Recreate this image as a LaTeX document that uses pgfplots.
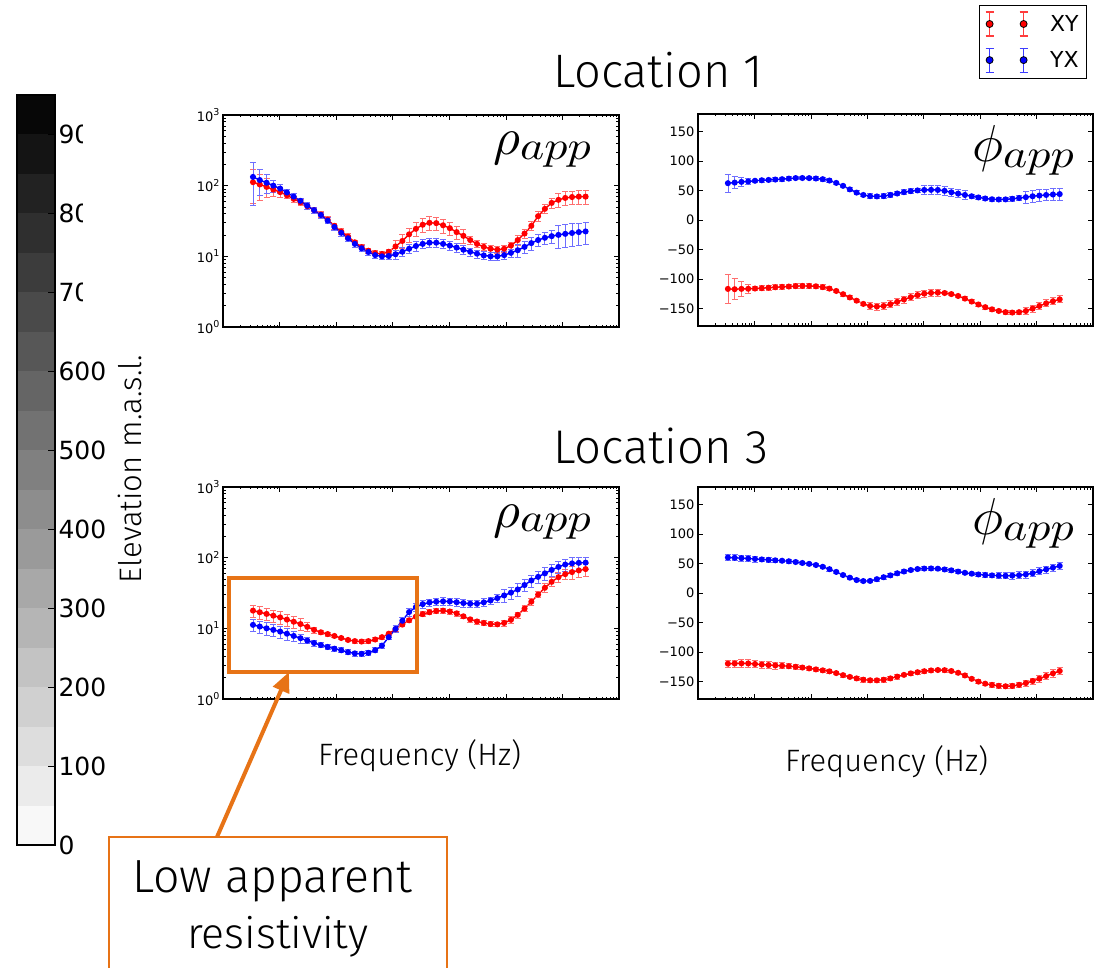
\documentclass[border=0pt]{standalone}
\usepackage{pgfplots}
\pgfplotsset{compat=1.18}
\usepackage{pgfplotstable}
\usepackage{graphicx}
\usepackage{fontspec}
\setmainfont{Liberation Sans}
\newfontfamily\lf{Fira Sans Light}
\newfontfamily\dejavu{DejaVu Sans}
\usetikzlibrary{arrows.meta}
\definecolor{annor}{RGB}{231,115,22}
\definecolor{ebred}{RGB}{255,110,110}
\definecolor{ebblue}{RGB}{110,110,255}
\definecolor{lgred}{RGB}{255,60,60}
\definecolor{lgblue}{RGB}{60,60,255}
\newcommand{\pw}[1]{10\raisebox{5.5pt}{\fontsize{9.5}{10}\selectfont #1}}
\newcommand{\wtext}[2]{\resizebox{#1pt}{!}{\lf #2}}
\pgfplotsset{
  xyst/.style={color=red, mark=*, mark size=2.3pt, line width=1.4pt, forget plot,
    error bars/y dir=both,
    error bars/error bar style={ebred, line width=0.8pt},
    error bars/error mark options={rotate=90, ebred, mark size=3pt, line width=0.8pt}},
  yxst/.style={color=blue, mark=*, mark size=2.3pt, line width=1.4pt, forget plot,
    error bars/y dir=both,
    error bars/error bar style={ebblue, line width=0.8pt},
    error bars/error mark options={rotate=90, ebblue, mark size=3pt, line width=0.8pt}},
}
\begin{document}
\pgfplotstableread{
lx xy exy yx eyx
-3.47 112 0.5 133 0.6
-3.35 104 0.4 120 0.4
-3.23 96 0.3 110 0.3
-3.11 88 0.2 100 0.2
-2.99 81 0.15 91 0.15
-2.87 73 0.1 80 0.1
-2.75 65 0.1 70 0.1
-2.63 58 0.1 61 0.1
-2.51 51 0.1 52 0.1
-2.39 45 0.1 45 0.1
-2.27 39 0.1 38.5 0.1
-2.15 33 0.1 32 0.1
-2.03 27 0.1 26 0.1
-1.91 22.5 0.1 21.5 0.1
-1.79 19 0.1 18 0.1
-1.67 15.8 0.08 15 0.1
-1.55 13.5 0.08 13 0.1
-1.43 12 0.08 11.5 0.1
-1.31 11.1 0.08 10.4 0.1
-1.19 10.8 0.08 10.0 0.1
-1.07 11.6 0.08 10.1 0.1
-0.95 13.8 0.22 10.7 0.15
-0.83 16.5 0.22 11.6 0.15
-0.71 20.5 0.22 12.8 0.15
-0.59 24.5 0.22 14.0 0.15
-0.47 28 0.22 15.0 0.15
-0.35 29.8 0.22 15.6 0.15
-0.23 29.5 0.22 15.6 0.15
-0.11 27.5 0.22 15.0 0.15
0.01 25 0.22 14.2 0.15
0.13 22 0.22 13.3 0.15
0.25 19.5 0.22 12.4 0.15
0.37 17 0.12 11.6 0.13
0.49 15 0.12 10.9 0.13
0.61 13.6 0.12 10.3 0.13
0.73 12.8 0.12 10.0 0.13
0.85 12.4 0.12 10.0 0.13
0.97 12.8 0.12 10.4 0.13
1.09 14.2 0.12 11.2 0.13
1.21 17 0.15 12.2 0.2
1.33 21 0.15 13.6 0.2
1.45 27 0.15 15.4 0.2
1.57 37 0.15 17.0 0.2
1.69 47 0.15 18.3 0.2
1.81 57 0.15 19.3 0.2
1.93 63 0.22 20.1 0.35
2.05 67 0.22 20.8 0.35
2.17 69 0.22 21.4 0.35
2.29 70 0.22 22.0 0.35
2.41 70 0.22 22.5 0.35
}\rhoA
\pgfplotstableread{
lx xy exy yx eyx
-3.47 -117 25 62.5 15
-3.35 -117.5 18 63.5 10
-3.23 -117 12 64.7 7
-3.11 -116.8 7 65.5 5
-2.99 -116.4 4 66.6 3
-2.87 -115.8 4 67.5 3
-2.75 -115 4 68 3
-2.63 -114.2 4 68.7 3
-2.51 -113.5 4 69.3 3
-2.39 -113 4 70.3 3
-2.27 -112.3 4 71.2 3
-2.15 -112 4 71.3 3
-2.03 -112 4 71.1 3
-1.91 -112.6 4 70.5 3
-1.79 -114 4 69.3 3
-1.67 -116.5 3 67 3
-1.55 -120.5 3 63 3
-1.43 -126 3 58 3
-1.31 -131.5 3 52 3
-1.19 -137 3 46.5 3
-1.07 -142.5 3 42.5 3
-0.95 -146 6 40.5 4
-0.83 -147 6 40 4
-0.71 -146 6 40.6 4
-0.59 -143 6 42.5 4
-0.47 -139 6 45 4
-0.35 -135 6 47.3 4
-0.23 -131 6 49 4
-0.11 -127.5 6 50.2 4
0.01 -125 6 51 7
0.13 -123.7 6 51.2 7
0.25 -123.3 6 51 7
0.37 -124 3 49.5 7
0.49 -125.8 3 47 7
0.61 -129 3 44.8 7
0.73 -133.5 3 42.5 7
0.85 -138.5 3 40.3 4
0.97 -143.5 3 38.3 4
1.09 -148 3 36.5 4
1.21 -151.7 3 35.2 4
1.33 -154.5 3 34.8 4
1.45 -156.5 3 35 4
1.57 -157.2 3 36 4
1.69 -156.5 3 37.3 4
1.81 -154.5 6 38.7 10
1.93 -150.5 6 40.3 10
2.05 -146 6 41.5 10
2.17 -141.5 6 42.5 10
2.29 -138 6 43.3 10
2.41 -134.7 6 44 10
}\phiA
\pgfplotstableread{
lx xy exy yx eyx
-3.47 17.8 0.2 11.2 0.2
-3.35 16.9 0.2 10.6 0.2
-3.23 16 0.2 10.0 0.2
-3.11 15.1 0.2 9.5 0.2
-2.99 14.3 0.2 9.0 0.2
-2.87 13.3 0.2 8.4 0.2
-2.75 12.4 0.2 7.8 0.15
-2.63 11.5 0.2 7.25 0.15
-2.51 10.5 0.15 6.7 0.1
-2.39 9.5 0.1 6.2 0.1
-2.27 8.8 0.06 5.8 0.08
-2.15 8.3 0.06 5.45 0.08
-2.03 7.8 0.06 5.15 0.08
-1.91 7.3 0.06 4.9 0.08
-1.79 6.85 0.06 4.6 0.08
-1.67 6.6 0.06 4.42 0.08
-1.55 6.5 0.06 4.36 0.08
-1.43 6.6 0.06 4.5 0.08
-1.31 6.95 0.06 4.9 0.08
-1.19 7.5 0.06 5.7 0.08
-1.07 8.4 0.06 7.5 0.08
-0.95 9.7 0.06 9.8 0.12
-0.83 11.3 0.06 12.8 0.12
-0.71 13.0 0.06 17 0.12
-0.59 14.6 0.06 20 0.12
-0.47 15.9 0.08 22 0.12
-0.35 16.9 0.08 23.2 0.12
-0.23 17.6 0.08 23.8 0.12
-0.11 17.8 0.08 24.1 0.12
0.01 17.3 0.08 24 0.12
0.13 16.3 0.08 23.4 0.12
0.25 14.8 0.08 22.8 0.12
0.37 13.4 0.08 22.3 0.12
0.49 12.5 0.08 22.3 0.12
0.61 11.9 0.08 23.3 0.12
0.73 11.5 0.08 24.8 0.12
0.85 11.4 0.08 26.8 0.12
0.97 11.9 0.1 29.2 0.2
1.09 13.2 0.1 32 0.2
1.21 15.5 0.1 35.5 0.2
1.33 19 0.1 41 0.2
1.45 23.8 0.1 47.5 0.2
1.57 30 0.1 53.5 0.2
1.69 37.5 0.15 60 0.2
1.81 45.5 0.15 67 0.2
1.93 53 0.15 74 0.2
2.05 58.5 0.15 80 0.2
2.17 62.5 0.2 83 0.2
2.29 66 0.2 84.5 0.2
2.41 69 0.2 85 0.2
}\rhoB
\pgfplotstableread{
lx xy exy yx eyx
-3.47 -120 6 60.3 5
-3.35 -119.7 6 59.8 5
-3.23 -119.5 6 59.2 5
-3.11 -119.6 6 58.6 5
-2.99 -120.5 6 57.8 5
-2.87 -121.5 6 57 4
-2.75 -122.3 6 56.3 4
-2.63 -123 6 55.5 4
-2.51 -123.6 5 54.8 3
-2.39 -124.3 4 53.9 3
-2.27 -125.3 4 52.6 3
-2.15 -126.6 3 51 3
-2.03 -128 3 49.5 3
-1.91 -129.7 3 47.5 3
-1.79 -131.3 3 44.5 3
-1.67 -133 3 40.5 3
-1.55 -136 3 35.8 3
-1.43 -139.5 3 30.5 3
-1.31 -142.5 3 26 3
-1.19 -145 3 22 3
-1.07 -147.2 4 20.3 3
-0.95 -148.2 4 20.5 3
-0.83 -148.3 4 23.5 3
-0.71 -147.3 4 26.8 3
-0.59 -145 4 30 3
-0.47 -142 4 33.5 3
-0.35 -139 3 36.5 3
-0.23 -136.5 3 39 3
-0.11 -134.5 3 40.7 3
0.01 -132.8 3 41.5 3
0.13 -131.5 3 41.7 3
0.25 -130.8 3 41.3 3
0.37 -131 3 40 3
0.49 -132.5 3 38.5 3
0.61 -135.5 3 36.4 3
0.73 -140 3 34.3 3
0.85 -145.8 3 32.8 3
0.97 -150.5 3 31.5 3
1.09 -154 3 30.5 4
1.21 -156.1 4 29.9 4
1.33 -157.6 4 29.5 5
1.45 -158.4 4 29.2 5
1.57 -157.8 4 29.5 6
1.69 -156 4 30.2 6
1.81 -153 5 31.5 6
1.93 -149.5 5 33.5 6
2.05 -145.4 6 37 6
2.17 -141 6 40 6
2.29 -136.5 6 43 6
2.41 -132.4 6 46 6
}\phiB
\begin{tikzpicture}[x=1pt,y=1pt]
\useasboundingbox (0pt,0pt) rectangle (1101pt,-968pt);
% colorbar
\begin{axis}[at={(17pt,-95pt)}, anchor=north west, scale only axis, width=38pt, height=750pt,
  xmin=0, xmax=1, ymin=0, ymax=950, xtick=\empty,
  ytick={0,100,200,300,400,500,600,700,800,900},
  yticklabels={0,100,200,300,400,500,600,700,800,900},
  ytick pos=right, yticklabel pos=right, tick align=inside, major tick length=7pt,
  every tick/.style={black, line width=0.8pt},
  yticklabel style={font=\dejavu\fontsize{25}{25}\selectfont},
  axis line style={line width=1.5pt}, axis on top]
\addplot[fill=black!2.63, draw=none] coordinates {(0,0) (1,0) (1,50) (0,50)};
\addplot[fill=black!7.89, draw=none] coordinates {(0,50) (1,50) (1,100) (0,100)};
\addplot[fill=black!13.16, draw=none] coordinates {(0,100) (1,100) (1,150) (0,150)};
\addplot[fill=black!18.42, draw=none] coordinates {(0,150) (1,150) (1,200) (0,200)};
\addplot[fill=black!23.68, draw=none] coordinates {(0,200) (1,200) (1,250) (0,250)};
\addplot[fill=black!28.95, draw=none] coordinates {(0,250) (1,250) (1,300) (0,300)};
\addplot[fill=black!34.21, draw=none] coordinates {(0,300) (1,300) (1,350) (0,350)};
\addplot[fill=black!39.47, draw=none] coordinates {(0,350) (1,350) (1,400) (0,400)};
\addplot[fill=black!44.74, draw=none] coordinates {(0,400) (1,400) (1,450) (0,450)};
\addplot[fill=black!50, draw=none] coordinates {(0,450) (1,450) (1,500) (0,500)};
\addplot[fill=black!55.26, draw=none] coordinates {(0,500) (1,500) (1,550) (0,550)};
\addplot[fill=black!60.53, draw=none] coordinates {(0,550) (1,550) (1,600) (0,600)};
\addplot[fill=black!65.79, draw=none] coordinates {(0,600) (1,600) (1,650) (0,650)};
\addplot[fill=black!71.05, draw=none] coordinates {(0,650) (1,650) (1,700) (0,700)};
\addplot[fill=black!76.32, draw=none] coordinates {(0,700) (1,700) (1,750) (0,750)};
\addplot[fill=black!81.58, draw=none] coordinates {(0,750) (1,750) (1,800) (0,800)};
\addplot[fill=black!86.84, draw=none] coordinates {(0,800) (1,800) (1,850) (0,850)};
\addplot[fill=black!92.11, draw=none] coordinates {(0,850) (1,850) (1,900) (0,900)};
\addplot[fill=black!97.37, draw=none] coordinates {(0,900) (1,900) (1,950) (0,950)};
\end{axis}
\fill[white] (83pt,-100pt) rectangle (190pt,-335pt);
\node[rotate=90, anchor=base, inner sep=0] at (141pt,-469pt) {\wtext{228}{Elevation m.a.s.l.}};
% top-left rho
\begin{axis}[ymode=log, at={(223pt,-115pt)}, anchor=north west,
    scale only axis, width=396pt, height=212pt, xmin=-4, xmax=3,
    xtick={-4,-3,-2,-1,0,1,2,3}, xticklabels={},
    minor xtick={-3.699,-3.523,-3.398,-3.301,-3.222,-3.155,-3.097,-3.046,-2.699,-2.523,-2.398,-2.301,-2.222,-2.155,-2.097,-2.046,-1.699,-1.523,-1.398,-1.301,-1.222,-1.155,-1.097,-1.046,-0.699,-0.523,-0.398,-0.301,-0.222,-0.155,-0.097,-0.046,0.301,0.477,0.602,0.699,0.778,0.845,0.903,0.954,1.301,1.477,1.602,1.699,1.778,1.845,1.903,1.954,2.301,2.477,2.602,2.699,2.778,2.845,2.903,2.954},
    tick align=inside, axis line style={line width=1.1pt},
    every tick/.style={black, line width=0.7pt},
    major tick length=5pt, minor tick length=2.5pt,
    yticklabel style={font=\dejavu\fontsize{13}{13}\selectfont},
    ymin=1, ymax=1000, ytick={1,10,100,1000},
    yticklabels={\pw{0},\pw{1},\pw{2},\pw{3}}]
\addplot[xyst, error bars/y explicit relative] table[x=lx, y=xy, y error=exy] {\rhoA};
\addplot[yxst, error bars/y explicit relative] table[x=lx, y=yx, y error=eyx] {\rhoA};
\end{axis}
% top-right phi
\begin{axis}[at={(698pt,-114pt)}, anchor=north west,
    scale only axis, width=395pt, height=212pt, xmin=-4, xmax=3,
    xtick={-4,-3,-2,-1,0,1,2,3}, xticklabels={},
    minor xtick={-3.699,-3.523,-3.398,-3.301,-3.222,-3.155,-3.097,-3.046,-2.699,-2.523,-2.398,-2.301,-2.222,-2.155,-2.097,-2.046,-1.699,-1.523,-1.398,-1.301,-1.222,-1.155,-1.097,-1.046,-0.699,-0.523,-0.398,-0.301,-0.222,-0.155,-0.097,-0.046,0.301,0.477,0.602,0.699,0.778,0.845,0.903,0.954,1.301,1.477,1.602,1.699,1.778,1.845,1.903,1.954,2.301,2.477,2.602,2.699,2.778,2.845,2.903,2.954},
    tick align=inside, axis line style={line width=1.1pt},
    every tick/.style={black, line width=0.7pt},
    major tick length=5pt, minor tick length=2.5pt,
    yticklabel style={font=\dejavu\fontsize{13}{13}\selectfont},
    ymin=-180, ymax=180, ytick={-150,-100,-50,0,50,100,150},
    yticklabels={−150,−100,−50,0,50,100,150},
    legend style={at={(rel axis cs:0.985,1.514)}, anchor=north east, draw=black, line width=0.8pt,
    font=\dejavu\fontsize{22}{22}\selectfont, inner xsep=6pt, inner ysep=6pt, row sep=11pt},
    legend cell align=left]
\addplot[xyst, error bars/y explicit] table[x=lx, y=xy, y error=exy] {\phiA};
\addplot[yxst, error bars/y explicit] table[x=lx, y=yx, y error=eyx] {\phiA};
\addlegendimage{legend image code/.code={
  \draw[draw=lgred, line width=1.1pt] (6pt,-12pt) -- (6pt,12pt) (2pt,-12pt) -- (10pt,-12pt) (2pt,12pt) -- (10pt,12pt);
  \draw[draw=lgred, line width=1.1pt] (40pt,-12pt) -- (40pt,12pt) (36pt,-12pt) -- (44pt,-12pt) (36pt,12pt) -- (44pt,12pt);
  \fill[fill=red] (6pt,0pt) circle (3.5pt) (40pt,0pt) circle (3.5pt);}}
\addlegendentry{\hspace*{20pt}XY}
\addlegendimage{legend image code/.code={
  \draw[draw=lgblue, line width=1.1pt] (6pt,-12pt) -- (6pt,12pt) (2pt,-12pt) -- (10pt,-12pt) (2pt,12pt) -- (10pt,12pt);
  \draw[draw=lgblue, line width=1.1pt] (40pt,-12pt) -- (40pt,12pt) (36pt,-12pt) -- (44pt,-12pt) (36pt,12pt) -- (44pt,12pt);
  \fill[fill=blue] (6pt,0pt) circle (3.5pt) (40pt,0pt) circle (3.5pt);}}
\addlegendentry{\hspace*{20pt}YX}
\end{axis}
% bottom-left rho
\begin{axis}[ymode=log, at={(223pt,-487pt)}, anchor=north west,
    scale only axis, width=396pt, height=212pt, xmin=-4, xmax=3,
    xtick={-4,-3,-2,-1,0,1,2,3}, xticklabels={},
    minor xtick={-3.699,-3.523,-3.398,-3.301,-3.222,-3.155,-3.097,-3.046,-2.699,-2.523,-2.398,-2.301,-2.222,-2.155,-2.097,-2.046,-1.699,-1.523,-1.398,-1.301,-1.222,-1.155,-1.097,-1.046,-0.699,-0.523,-0.398,-0.301,-0.222,-0.155,-0.097,-0.046,0.301,0.477,0.602,0.699,0.778,0.845,0.903,0.954,1.301,1.477,1.602,1.699,1.778,1.845,1.903,1.954,2.301,2.477,2.602,2.699,2.778,2.845,2.903,2.954},
    tick align=inside, axis line style={line width=1.1pt},
    every tick/.style={black, line width=0.7pt},
    major tick length=5pt, minor tick length=2.5pt,
    yticklabel style={font=\dejavu\fontsize{13}{13}\selectfont},
    ymin=1, ymax=1000, ytick={1,10,100,1000},
    yticklabels={\pw{0},\pw{1},\pw{2},\pw{3}}]
\addplot[xyst, error bars/y explicit relative] table[x=lx, y=xy, y error=exy] {\rhoB};
\addplot[yxst, error bars/y explicit relative] table[x=lx, y=yx, y error=eyx] {\rhoB};
\end{axis}
% bottom-right phi
\begin{axis}[at={(698pt,-487pt)}, anchor=north west,
    scale only axis, width=395pt, height=212pt, xmin=-4, xmax=3,
    xtick={-4,-3,-2,-1,0,1,2,3}, xticklabels={},
    minor xtick={-3.699,-3.523,-3.398,-3.301,-3.222,-3.155,-3.097,-3.046,-2.699,-2.523,-2.398,-2.301,-2.222,-2.155,-2.097,-2.046,-1.699,-1.523,-1.398,-1.301,-1.222,-1.155,-1.097,-1.046,-0.699,-0.523,-0.398,-0.301,-0.222,-0.155,-0.097,-0.046,0.301,0.477,0.602,0.699,0.778,0.845,0.903,0.954,1.301,1.477,1.602,1.699,1.778,1.845,1.903,1.954,2.301,2.477,2.602,2.699,2.778,2.845,2.903,2.954},
    tick align=inside, axis line style={line width=1.1pt},
    every tick/.style={black, line width=0.7pt},
    major tick length=5pt, minor tick length=2.5pt,
    yticklabel style={font=\dejavu\fontsize{13}{13}\selectfont},
    ymin=-180, ymax=180, ytick={-150,-100,-50,0,50,100,150},
    yticklabels={−150,−100,−50,0,50,100,150}]
\addplot[xyst, error bars/y explicit] table[x=lx, y=xy, y error=exy] {\phiB};
\addplot[yxst, error bars/y explicit] table[x=lx, y=yx, y error=eyx] {\phiB};
\end{axis}
% math labels
\node[anchor=base west, inner sep=0] at (493pt,-155pt) {\scalebox{5.2}{$\rho$}\raisebox{-5pt}{\scalebox{4.6}[4.0]{$app$}}};
\node[anchor=base west, inner sep=0] at (972pt,-162pt) {\scalebox{5.2}{$\phi$}\raisebox{-6pt}{\scalebox{4.6}[4.0]{$app$}}};
\node[anchor=base west, inner sep=0] at (493pt,-527pt) {\scalebox{5.2}{$\rho$}\raisebox{-5pt}{\scalebox{4.6}[4.0]{$app$}}};
\node[anchor=base west, inner sep=0] at (972pt,-534pt) {\scalebox{5.2}{$\phi$}\raisebox{-6pt}{\scalebox{4.6}[4.0]{$app$}}};
% titles
\node[anchor=base west, inner sep=0] at (553pt,-88pt) {\wtext{210}{Location 1}};
\node[anchor=base west, inner sep=0] at (553pt,-463pt) {\wtext{215}{Location 3}};
\node[anchor=base west, inner sep=0] at (318pt,-765pt) {\wtext{203}{Frequency (Hz)}};
\node[anchor=base west, inner sep=0] at (785pt,-771pt) {\wtext{203}{Frequency (Hz)}};
% annotation
\draw[annor, line width=4.5pt] (229pt,-578pt) rectangle (417pt,-672pt);
\draw[annor, line width=4pt, -{Triangle[length=20pt,width=17pt]}] (217pt,-837pt) -- (289pt,-672pt);
\draw[annor, line width=2.5pt] (109pt,-1000pt) -- (109pt,-837pt) -- (447pt,-837pt) -- (447pt,-1000pt);
\node[anchor=base west, inner sep=0] at (132pt,-892pt) {\wtext{280}{Low apparent}};
\node[anchor=base west, inner sep=0] at (187pt,-948pt) {\wtext{181}{resistivity}};
\end{tikzpicture}
\end{document}
